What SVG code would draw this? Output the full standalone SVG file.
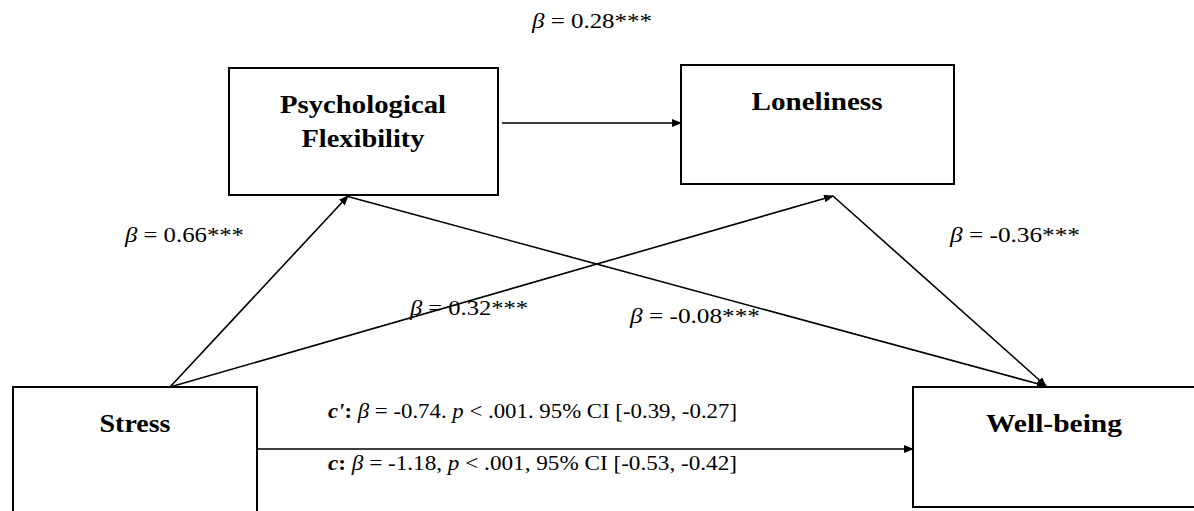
<svg xmlns="http://www.w3.org/2000/svg" width="1194" height="511" viewBox="0 0 1194 511">
<style>
.box{fill:#fff;stroke:#000;stroke-width:2}
.node{font-family:"Liberation Serif","Times New Roman",serif;font-weight:bold;font-size:26px;fill:#000;text-anchor:middle}
.lbl{font-family:"Liberation Serif","Times New Roman",serif;font-size:21px;fill:#000}
.it{font-style:italic}
.bi{font-style:italic;font-weight:bold}
.conn{stroke:#000;stroke-width:1.6;fill:none;marker-end:url(#ah)}
</style>
<defs>
<marker id="ah" markerUnits="userSpaceOnUse" markerWidth="10" markerHeight="8" refX="9" refY="4" orient="auto">
<path d="M0,0 L10,4 L0,8 Z" fill="#000"/>
</marker>
</defs>
<rect width="1194" height="511" fill="#fff"/>
<g id="node-stress">
<rect class="box" x="13" y="387" width="244" height="130"/>
<text class="node" x="135" y="432" textLength="71" lengthAdjust="spacingAndGlyphs">Stress</text>
</g>
<g id="node-wellbeing">
<rect class="box" x="913" y="387" width="285" height="120"/>
<text class="node" x="1054" y="432" textLength="136" lengthAdjust="spacingAndGlyphs">Well-being</text>
</g>
<g id="node-psychflex">
<rect class="box" x="229" y="68" width="269" height="127"/>
<text class="node" x="363" y="113" textLength="166" lengthAdjust="spacingAndGlyphs">Psychological</text>
<text class="node" x="363" y="147" textLength="123" lengthAdjust="spacingAndGlyphs">Flexibility</text>
</g>
<g id="node-loneliness">
<rect class="box" x="681" y="65" width="273" height="119"/>
<text class="node" x="817" y="110" textLength="131" lengthAdjust="spacingAndGlyphs">Loneliness</text>
</g>
<g id="connectors">
<line class="conn" x1="170" y1="387" x2="348" y2="196"/>
<line class="conn" x1="170" y1="387" x2="833" y2="196"/>
<line class="conn" x1="346" y1="196" x2="1046" y2="386"/>
<line class="conn" x1="833" y1="196" x2="1046" y2="386"/>
<line class="conn" x1="502" y1="123" x2="681" y2="123"/>
<line class="conn" x1="257" y1="449" x2="913" y2="449"/>
</g>
<g id="labels">
<text class="lbl" x="532" y="28" textLength="120" lengthAdjust="spacingAndGlyphs"><tspan class="it">β</tspan> = 0.28***</text>
<text class="lbl" x="125" y="242" textLength="119" lengthAdjust="spacingAndGlyphs"><tspan class="it">β</tspan> = 0.66***</text>
<text class="lbl" x="950" y="242" textLength="130" lengthAdjust="spacingAndGlyphs"><tspan class="it">β</tspan> = -0.36***</text>
<text class="lbl" x="410" y="315" textLength="118" lengthAdjust="spacingAndGlyphs"><tspan class="it">β</tspan> = 0.32***</text>
<text class="lbl" x="630" y="323" textLength="130" lengthAdjust="spacingAndGlyphs"><tspan class="it">β</tspan> = -0.08***</text>
<text class="lbl" x="328" y="418" textLength="409" lengthAdjust="spacingAndGlyphs"><tspan class="bi">c'</tspan><tspan font-weight="bold">:</tspan> <tspan class="it">β</tspan> = -0.74. <tspan class="it">p</tspan> &lt; .001. 95% CI [-0.39, -0.27]</text>
<text class="lbl" x="328" y="470" textLength="409" lengthAdjust="spacingAndGlyphs"><tspan class="bi">c</tspan><tspan font-weight="bold">:</tspan> <tspan class="it">β</tspan> = -1.18, <tspan class="it">p</tspan> &lt; .001, 95% CI [-0.53, -0.42]</text>
</g>
</svg>
